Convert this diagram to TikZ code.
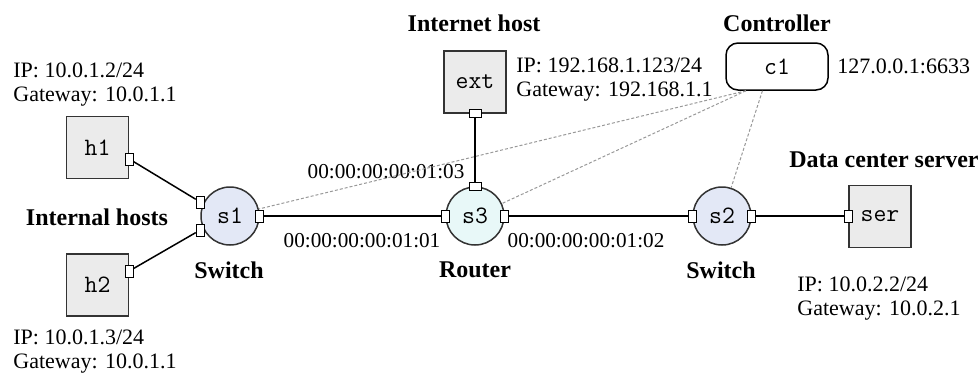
\documentclass[tikz,border=0pt]{standalone}
\usepackage{fontspec}
\setmainfont{Liberation Serif}
\usepackage{xcolor}
\usetikzlibrary{positioning, calc}

\definecolor{hostfill}{HTML}{EBEBEB}
\definecolor{swfill}{HTML}{E3E8F6}
\definecolor{rtfill}{HTML}{E8F8F8}

\begin{document}
\begin{tikzpicture}[x=0.5pt, y=-0.5pt,
    host/.style={rectangle, fill=hostfill, draw=black!80, line width=0.75pt,
                 minimum size=31pt, inner sep=0pt,
                 font=\ttfamily\fontsize{12.5}{14}\selectfont},
    switch/.style={circle, fill=swfill, draw=black!80, line width=0.75pt,
                   minimum size=29pt, inner sep=0pt,
                   font=\ttfamily\fontsize{12.5}{14}\selectfont},
    router/.style={switch, fill=rtfill},
    ctrl/.style={rectangle, rounded corners=6pt, draw=black, line width=0.75pt,
                 minimum width=51pt, minimum height=23.5pt, inner sep=0pt,
                 font=\ttfamily\fontsize{12.5}{14}\selectfont},
    port/.style={rectangle, fill=white, draw=black, line width=0.5pt,
                 minimum width=4pt, minimum height=6pt, inner sep=0pt},
    vport/.style={port, minimum width=6pt, minimum height=4pt},
    info/.style={font=\fontsize{11}{12}\selectfont, align=left, anchor=west, inner sep=0pt},
    title/.style={font=\bfseries\fontsize{12}{14}\selectfont, inner sep=0pt},
    mac/.style={font=\fontsize{10.6}{12}\selectfont, inner sep=0pt},
    link/.style={line width=0.75pt},
    ctl/.style={gray!80, dash pattern=on 1.5pt off 1pt, line width=0.5pt},
]
\useasboundingbox (0,0) rectangle (978,376);

% Internal hosts (left)
\node[host] (h1) at (97.5,147.5) {h1};
\node[host] (h2) at (97.5,285) {h2};
\node[port] (h1p) at ($(h1.east)+(0,11.5)$) {};
\node[port] (h2p) at ($(h2.east)+(0,-14)$) {};
\node[info] (h1ip) at (13,85) {IP: 10.0.1.2/24\\Gateway: 10.0.1.1};
\node[info] (h2ip) at (13,352) {IP: 10.0.1.3/24\\Gateway: 10.0.1.1};
\node[title] (inttitle) at (97,217) {Internal hosts};

% Switches and router
\node[switch] (s1) at (230,216) {s1};
\node[router] (s3) at (475,216) {s3};
\node[switch] (s2) at (722,216) {s2};
\node[port] (s1pa) at ($(s1.west)+(0,-14)$) {};
\node[port] (s1pb) at ($(s1.west)+(0,14)$) {};
\node[port] (s1pc) at (s1.east) {};
\node[port] (s3pa) at (s3.west) {};
\node[port] (s3pb) at (s3.east) {};
\node[vport] (s3pc) at (s3.north) {};
\node[port] (s2pa) at (s2.west) {};
\node[port] (s2pb) at (s2.east) {};
\node[title] (s1lbl) at (229,270) {Switch};
\node[title] (s3lbl) at (475,270) {Router};
\node[title] (s2lbl) at (721,270) {Switch};

% Internet host (top)
\node[title] (exttitle) at (474,23) {Internet host};
\node[host] (ext) at (475,82) {ext};
\node[vport] (extp) at (ext.south) {};
\node[info] (extip) at (516,80) {IP: 192.168.1.123/24\\Gateway: 192.168.1.1};

% Controller
\node[title] (ctitle) at (777,23) {Controller};
\node[ctrl] (c1) at (777,66.5) {c1};
\node[info] (caddr) at (837,66) {127.0.0.1:6633};

% Data center server (right)
\node[title] (sertitle) at (884,160) {Data center server};
\node[host] (ser) at (880,216.5) {ser};
\node[port] (serp) at ($(ser.west)+(0,-0.5)$) {};
\node[info] (serip) at (797,299) {IP: 10.0.2.2/24\\Gateway: 10.0.2.1};

% MAC addresses
\node[mac] (mac3) at (386,172) {00:00:00:00:01:03};
\node[mac] (mac1) at (362,241) {00:00:00:00:01:01};
\node[mac] (mac2) at (586,241) {00:00:00:00:01:02};

% Control channel
\draw[ctl] (c1.218) -- (s1);
\draw[ctl] (c1.218) -- (s3);
\draw[ctl] (c1.239) -- (s2);

% Data links
\draw[link] (h1p)  -- (s1pa);
\draw[link] (h2p)  -- (s1pb);
\draw[link] (s1pc) -- (s3pa);
\draw[link] (extp) -- (s3pc);
\draw[link] (s3pb) -- (s2pa);
\draw[link] (s2pb) -- (serp);

\end{tikzpicture}
\end{document}
